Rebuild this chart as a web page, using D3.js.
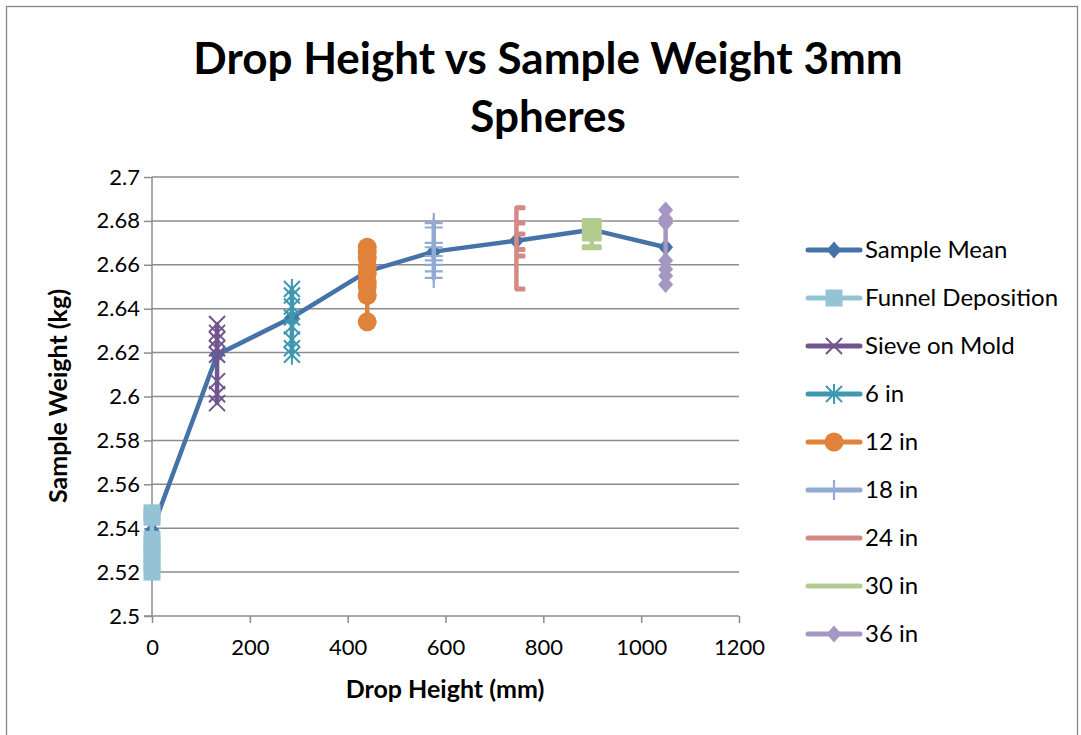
<!DOCTYPE html>
<html>
<head>
<meta charset="utf-8">
<script src="https://cdn.jsdelivr.net/npm/d3@7"></script>
<style>
  html, body { margin: 0; padding: 0; background: #fff; }
  svg { display: block; }
  text { font-family: Lato, "Open Sans", sans-serif; fill: #000; }
</style>
</head>
<body>
<svg id="chart" width="1081" height="735"></svg>
<script>
// ---------- data ----------
const seriesNames = ["Sample Mean", "Funnel Deposition", "Sieve on Mold", "6 in", "12 in", "18 in", "24 in", "30 in", "36 in"];
const dropHeights = [0, 133, 286, 440, 576, 745, 899, 1050];   // mm, one per test group
const meanWeights = [2.539, 2.619, 2.636, 2.657, 2.666, 2.671, 2.676, 2.668];
const funnelWeights = [2.547, 2.545, 2.535, 2.532, 2.528, 2.524, 2.520];
const sieveWeights  = [2.633, 2.629, 2.626, 2.622, 2.619, 2.607, 2.601, 2.597];
const in6Weights    = [2.649, 2.646, 2.641, 2.636, 2.632, 2.626, 2.622, 2.619];
const in12Weights   = [2.668, 2.666, 2.663, 2.659, 2.656, 2.652, 2.650, 2.646, 2.634];
const in18Weights   = [2.679, 2.677, 2.670, 2.668, 2.664, 2.662, 2.660, 2.657, 2.654];
const in24Weights   = [2.686, 2.679, 2.674, 2.667, 2.664, 2.649];
const in30Weights   = [2.680, 2.678, 2.676, 2.674, 2.672, 2.668];
const in36Weights   = [2.685, 2.681, 2.679, 2.662, 2.658, 2.655, 2.651];
const xTicks = [0, 200, 400, 600, 800, 1000, 1200];
const yTicks = [2.5, 2.52, 2.54, 2.56, 2.58, 2.6, 2.62, 2.64, 2.66, 2.68, 2.7];

const colors = ["#4572A7", "#93C3D5", "#71558F", "#3F98AF", "#E1823A", "#92AAD4", "#D58985", "#B2CB8E", "#A597C2"];
const markers = ["diamond", "square", "x", "asterisk", "circle", "plus", "shortdash", "longdash", "diamond"];

const groups = [funnelWeights, sieveWeights, in6Weights, in12Weights, in18Weights, in24Weights, in30Weights, in36Weights];

// ---------- layout ----------
const svg = d3.select("#chart");
const plot = { left: 152, right: 739, top: 177, bottom: 616 };
const x = d3.scaleLinear().domain([0, 1200]).range([plot.left, plot.right]);
const y = d3.scaleLinear().domain([2.5, 2.7]).range([plot.bottom, plot.top]);

// outer border
svg.append("rect").attr("x", 6.5).attr("y", 6.5).attr("width", 1071).attr("height", 760)
  .attr("fill", "#fff").attr("stroke", "#888").attr("stroke-width", 1.3);

// title
svg.append("text").attr("x", 548).attr("y", 74).attr("text-anchor", "middle")
  .attr("font-size", 44).attr("font-weight", "bold").text("Drop Height vs Sample Weight 3mm");
svg.append("text").attr("x", 548).attr("y", 132).attr("text-anchor", "middle")
  .attr("font-size", 44).attr("font-weight", "bold").text("Spheres");

// gridlines
svg.append("g").selectAll("line").data(yTicks.filter(d => d > 2.5)).join("line")
  .attr("x1", plot.left).attr("x2", plot.right)
  .attr("y1", d => y(d)).attr("y2", d => y(d))
  .attr("stroke", "#8c8c8c").attr("stroke-width", 1.5);

// axes
const yAxis = d3.axisLeft(y).tickValues(yTicks).tickSize(8).tickPadding(4).tickFormat(d => String(+d.toFixed(2)));
const gy = svg.append("g").attr("transform", `translate(${plot.left},0)`).call(yAxis);
const xAxis = d3.axisBottom(x).tickValues(xTicks).tickSize(7).tickPadding(16).tickFormat(d3.format("d"));
const gx = svg.append("g").attr("transform", `translate(0,${plot.bottom})`).call(xAxis);
[gx, gy].forEach(g => {
  g.select(".domain").attr("stroke", "#8c8c8c").attr("stroke-width", 1.5);
  g.selectAll(".tick line").attr("stroke", "#8c8c8c").attr("stroke-width", 1.5);
  g.selectAll(".tick text").attr("font-size", 22).attr("font-family", "Lato, sans-serif").attr("fill", "#000");
});
gy.select(".domain").attr("d", `M0,${plot.bottom}V${plot.top}`);
gx.select(".domain").attr("d", `M${plot.left - 8},0H${plot.right}`);

// axis titles
svg.append("text").attr("x", 445).attr("y", 698).attr("text-anchor", "middle")
  .attr("font-size", 25).attr("font-weight", "bold").text("Drop Height (mm)");
svg.append("text").attr("transform", `translate(67,396) rotate(-90)`).attr("text-anchor", "middle")
  .attr("font-size", 25).attr("font-weight", "bold").text("Sample Weight (kg)");

// ---------- marker drawing ----------
function drawMarker(g, type, cx, cy, color) {
  const s = g.append("g").attr("transform", `translate(${cx},${cy})`);
  switch (type) {
    case "diamond":
      s.append("path").attr("d", "M0,-8.5L7.5,0L0,8.5L-7.5,0Z").attr("fill", color); break;
    case "square":
      s.append("rect").attr("x", -8.5).attr("y", -8.5).attr("width", 17).attr("height", 17).attr("fill", color); break;
    case "circle":
      s.append("circle").attr("r", 9.5).attr("fill", color); break;
    case "x":
      s.append("path").attr("d", "M-8,-8L8,8M-8,8L8,-8").attr("stroke", color).attr("stroke-width", 2); break;
    case "asterisk":
      s.append("path").attr("d", "M-8,-8L8,8M-8,8L8,-8M0,-10V10").attr("stroke", color).attr("stroke-width", 2); break;
    case "plus":
      s.append("path").attr("d", "M-9,0H9M0,-10V10").attr("stroke", color).attr("stroke-width", 2.2); break;
    case "shortdash":
      s.append("rect").attr("x", -1).attr("y", -2.5).attr("width", 10).attr("height", 5).attr("rx", 1.5).attr("fill", color); break;
    case "longdash":
      s.append("rect").attr("x", -10).attr("y", -3).attr("width", 20).attr("height", 6).attr("rx", 1.5).attr("fill", color); break;
  }
}

const marks = svg.append("g");
// Sample mean line
const line = d3.line().x(d => x(d[0])).y(d => y(d[1]));
const meanPts = dropHeights.map((h, i) => [h, meanWeights[i]]);
marks.append("path").attr("d", line(meanPts)).attr("fill", "none")
  .attr("stroke", colors[0]).attr("stroke-width", 4.5).attr("stroke-linejoin", "round");
meanPts.forEach(p => drawMarker(marks, markers[0], x(p[0]), y(p[1]), colors[0]));

// group series: vertical connecting line + markers
groups.forEach((vals, gi) => {
  const col = colors[gi + 1];
  const pts = vals.map(v => [dropHeights[gi], v]);
  marks.append("path").attr("d", line(pts)).attr("fill", "none")
    .attr("stroke", col).attr("stroke-width", 4.5).attr("stroke-linecap", "round");
  pts.forEach(p => drawMarker(marks, markers[gi + 1], x(p[0]), y(p[1]), col));
});

// ---------- legend ----------
const legend = svg.append("g");
seriesNames.forEach((name, i) => {
  const ly = 250 + i * 48;
  legend.append("line").attr("x1", 808).attr("x2", 860).attr("y1", ly).attr("y2", ly)
    .attr("stroke", colors[i]).attr("stroke-width", 5).attr("stroke-linecap", "round");
  if (markers[i] !== "shortdash" && markers[i] !== "longdash") drawMarker(legend, markers[i], 834, ly, colors[i]);
  legend.append("text").attr("x", 865).attr("y", ly + 8).attr("font-size", 24).text(name);
});
</script>
</body>
</html>
